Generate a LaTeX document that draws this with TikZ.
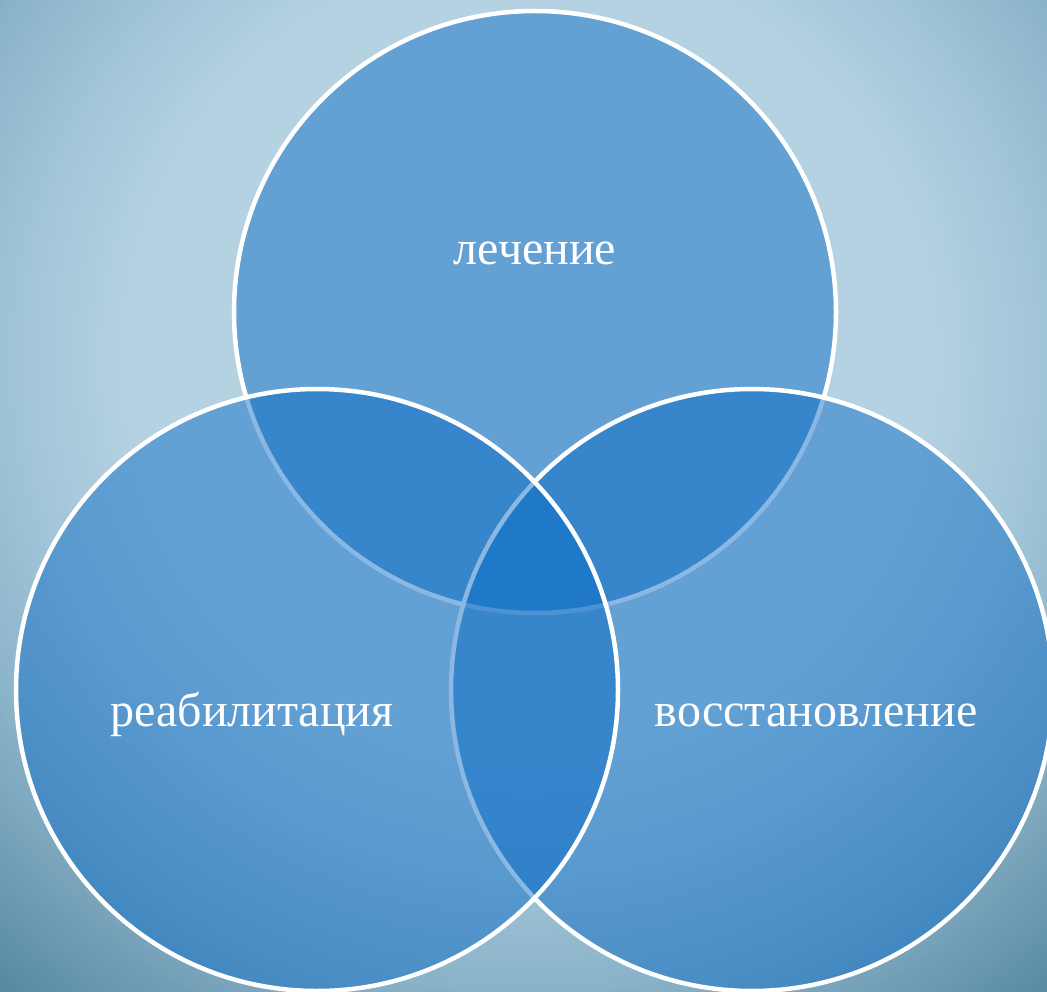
\documentclass[tikz,border=0pt]{standalone}
\usepackage{fontspec}
\setmainfont{Liberation Serif}
\definecolor{bgA}{RGB}{181,210,226}
\definecolor{bgB}{RGB}{160,196,215}
\definecolor{bgC}{RGB}{138,178,200}
\definecolor{bgD}{RGB}{86,136,162}
\definecolor{vfill}{RGB}{7,105,197}
\tikzset{
  vcirc/.style={circle, inner sep=0pt, minimum size=602pt, draw=white, line width=4.5pt, fill=vfill, fill opacity=0.47, draw opacity=1},
  lbl/.style={text=white, font=\fontsize{48}{56}\selectfont, inner sep=0pt, anchor=base}
}
\begin{document}
\begin{tikzpicture}[x=1pt,y=-1pt]
\useasboundingbox (0,0) rectangle (1047,992);
\begin{scope}
\clip (0,0) rectangle (1047,992);
\coordinate (bgc) at (530,360);
\fill[bgD] (0,0) rectangle (1047,992);
\foreach \r in {900,895,...,630}{
  \pgfmathsetmacro\p{min(100,(\r-630)/2)}
  \fill[bgD!\p!bgC] (bgc) circle[radius=\r];
}
\foreach \r in {625,620,...,520}{
  \pgfmathsetmacro\p{(\r-520)/1.1}
  \fill[bgC!\p!bgB] (bgc) circle[radius=\r];
}
\foreach \r in {515,510,...,400}{
  \pgfmathsetmacro\p{(\r-400)/1.2}
  \fill[bgB!\p!bgA] (bgc) circle[radius=\r];
}
\node[vcirc] (top) at (535,312) {};
\node[vcirc] (right) at (752,690) {};
\node[vcirc] (left) at (317,690) {};
\end{scope}
\node[lbl] (t1) at (535,265) {лечение};
\node[lbl] (t2) at (252,726) {реабилитация};
\node[lbl] (t3) at (816,726) {восстановление};
\end{tikzpicture}
\end{document}
